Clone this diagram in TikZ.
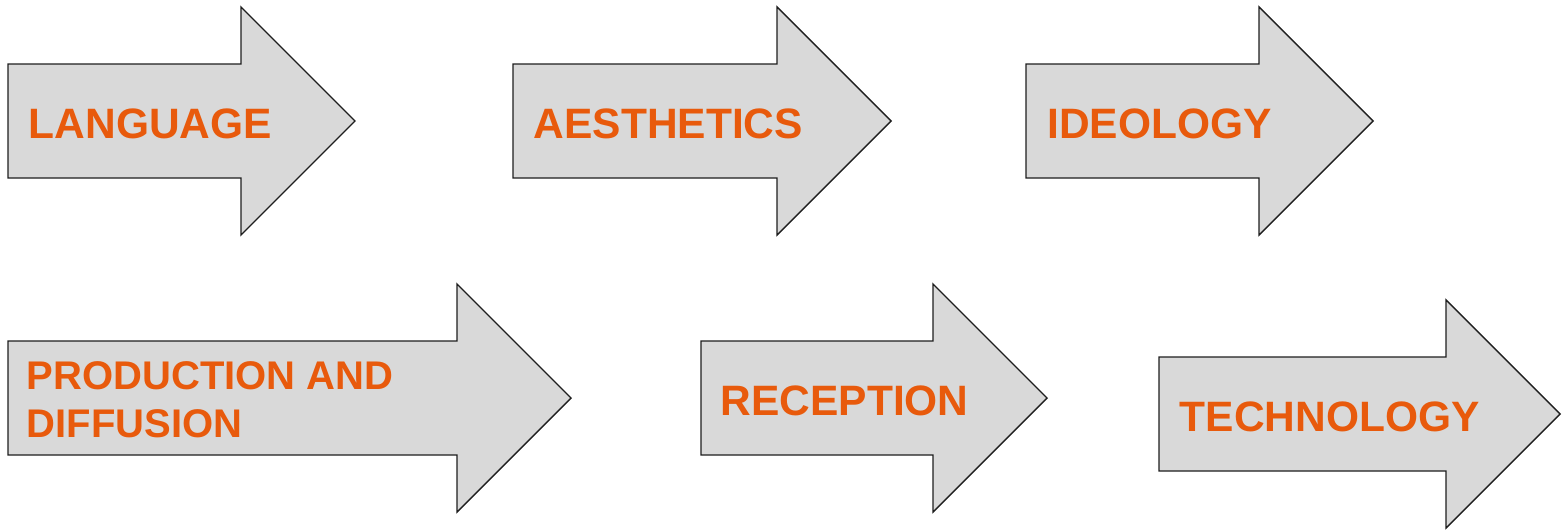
\documentclass[tikz,border=0pt]{standalone}
\usepackage{fontspec}
\setmainfont{Liberation Sans}
\definecolor{arrowfill}{RGB}{217,217,217}
\definecolor{arrowline}{RGB}{30,30,30}
\definecolor{labelorange}{RGB}{232,90,12}
\tikzset{
  bigarrow/.style={fill=arrowfill, draw=arrowline, line width=1.4pt, line join=miter},
  arrowlabel/.style={inner sep=0pt, anchor=base west, text=labelorange,
    font=\fontsize{42.5}{48}\selectfont\bfseries, align=left}
}
% #1 name, #2 left x, #3 head x, #4 tip x, #5 centre y
\newcommand{\flowarrow}[5]{%
  \draw[bigarrow] (#2,#5-57) -- (#3,#5-57) -- (#3,#5-114) -- (#4,#5)
    coordinate (#1tip) -- (#3,#5+114) -- (#3,#5+57) -- (#2,#5+57) -- cycle;
}
\begin{document}
\begin{tikzpicture}[x=1pt,y=-1pt]
\useasboundingbox (0,0) rectangle (1568,530);
\flowarrow{a}{8}{241}{355}{121}
\flowarrow{b}{513}{777}{891}{121}
\flowarrow{c}{1026}{1259}{1373}{121}
\flowarrow{d}{8}{457}{571}{398}
\flowarrow{e}{701}{933}{1047}{398}
\flowarrow{f}{1159}{1446}{1560}{414}
\node[arrowlabel] (la) at (28.5,138) {LANGUAGE};
\node[arrowlabel] (lb) at (533.5,138) {AESTHETICS};
\node[arrowlabel] (lc) at (1047,138) {IDEOLOGY};
\node[arrowlabel, anchor=west, font=\fontsize{40}{48}\selectfont\bfseries] (ld) at (26.5,399.5) {PRODUCTION AND\\DIFFUSION};
\node[arrowlabel] (le) at (720.5,415) {RECEPTION};
\node[arrowlabel] (lf) at (1179.5,431) {TECHNOLOGY};
\end{tikzpicture}
\end{document}
